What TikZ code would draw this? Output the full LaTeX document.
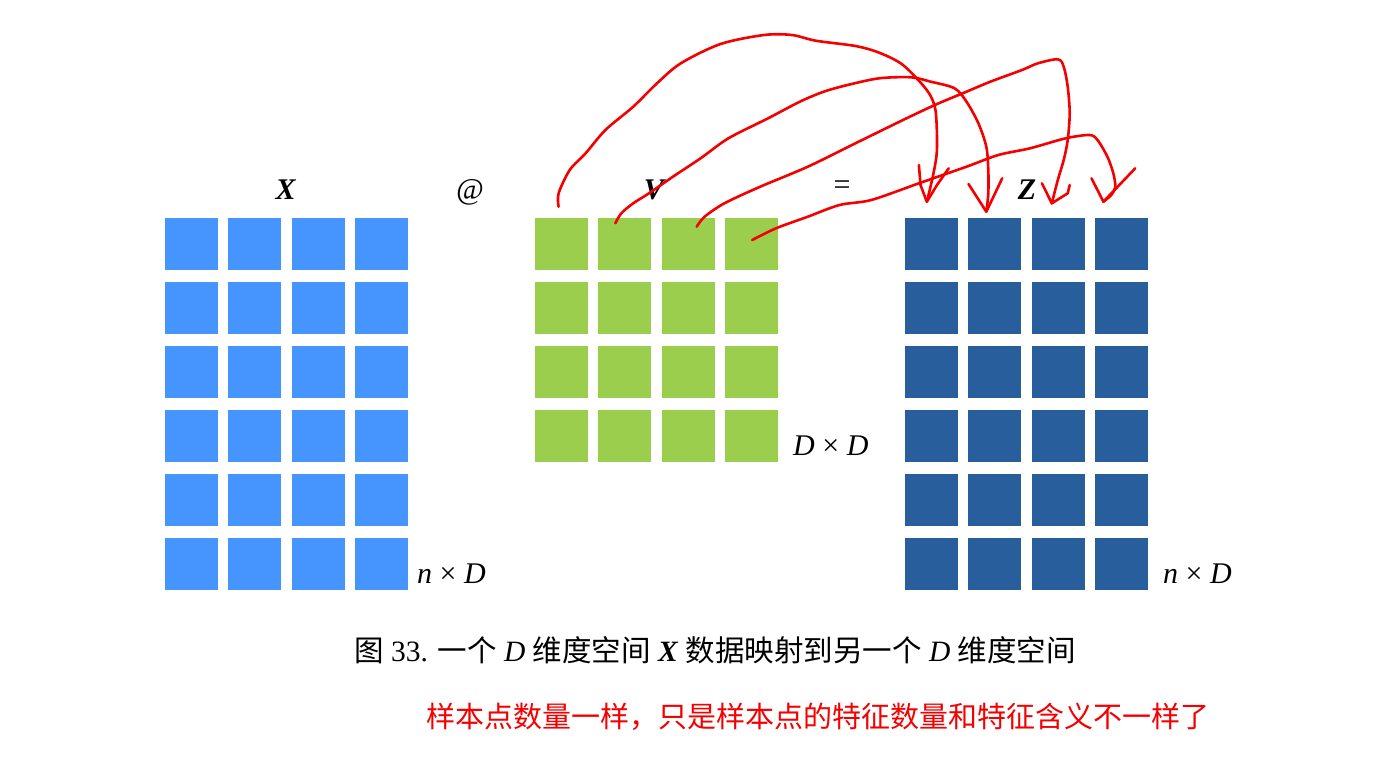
\documentclass[tikz,border=0pt]{standalone}
\usepackage{fontspec}
\setmainfont{Liberation Serif}
\newfontfamily\cjk{Noto Sans CJK SC}
\definecolor{xblue}{HTML}{4694FE}
\definecolor{vgreen}{HTML}{9BCE4D}
\definecolor{zblue}{HTML}{295E9D}
\definecolor{penred}{HTML}{F50000}
\begin{document}
\begin{tikzpicture}[x=1pt,y=-1pt,
  cell/.style={minimum width=53pt,minimum height=52pt,inner sep=0pt,draw=none},
  lab/.style={inner sep=0pt,font=\fontsize{30}{34}\selectfont},
  captext/.style={inner sep=0pt,font=\fontsize{29.5}{34}\selectfont},
  redpen/.style={draw=penred,line width=2.6pt,line cap=round,line join=round}]
\useasboundingbox (0,0) rectangle (1389,772);
\fill[white] (0,0) rectangle (1389,772);
% X grid
\foreach \c [count=\i] in {191.5,254.5,318.5,381.5}
  \foreach \r [count=\j] in {244,308,372,436,500,564}
    \node[cell,fill=xblue] (x\j\i) at (\c,\r) {};
% V grid
\foreach \c [count=\i] in {561.5,624.5,688.5,751.5}
  \foreach \r [count=\j] in {244,308,372,436}
    \node[cell,fill=vgreen] (v\j\i) at (\c,\r) {};
% Z grid
\foreach \c [count=\i] in {931.5,994.5,1058.5,1121.5}
  \foreach \r [count=\j] in {244,308,372,436,500,564}
    \node[cell,fill=zblue] (z\j\i) at (\c,\r) {};
% labels
\node[lab] (lx) at (286,190) {\textbf{\textit{X}}};
\node[lab] (lat) at (470,192) {\textit{@}};
\node[lab] (lv) at (655,190) {\textbf{\textit{V}}};
\node[lab] (leq) at (842,188) {=};
\node[lab] (lz) at (1027,190) {\textbf{\textit{Z}}};
\node[lab,anchor=west] (dd) at (793,446) {\textit{D} × \textit{D}};
\node[lab,anchor=west] (nd1) at (417,574) {\textit{n} × \textit{D}};
\node[lab,anchor=west] (nd2) at (1163,574) {\textit{n} × \textit{D}};
% caption
\node[captext] (cap) at (715,650) {{\cjk 图} 33. {\cjk 一个} \textit{D} {\cjk 维度空间} \textbf{\textit{X}} {\cjk 数据映射到另一个} \textit{D} {\cjk 维度空间}};
\node[captext,font=\fontsize{29}{34}\selectfont,text=penred] (note) at (818,717) {\cjk 样本点数量一样，只是样本点的特征数量和特征含义不一样了};
% red hand-drawn arrows
\coordinate (s1) at (558.6,206.7);
\coordinate (e1) at (926.8,201.7);
\coordinate (s2) at (615.3,223.3);
\coordinate (e2) at (986.3,211.7);
\coordinate (s3) at (696.7,226.7);
\coordinate (e3) at (1051.8,203.3);
\coordinate (s4) at (752.2,240);
\coordinate (e4) at (1111.3,195);
\draw[redpen] plot[smooth,tension=0.5] coordinates {(s1) (558.6,193.3) (569.7,170) (585.6,153.3) (605.4,130) (633.2,106.7) (657,83.3) (680.8,63.3) (720.5,44) (764,35) (792,35) (815.7,40.7) (855.4,46) (879.2,52.7) (903,65) (926.8,90) (934.8,106.7) (936.7,126.7) (936.7,153.3) (932.8,176.7) (e1)};
\draw[redpen] (918.9,165) -- (920.5,185) -- (e1) -- (937,185) -- (948.7,168.3);
\draw[redpen] plot[smooth,tension=0.5] coordinates {(s2) (621.3,213.3) (633.2,203.3) (649,193.3) (672.9,176.7) (700.6,158.3) (728.4,138.3) (768.1,118.3) (799.8,101.7) (823.7,91.7) (847.5,85) (879.2,78.3) (911,77.3) (930.8,81.7) (954.6,88.3) (966.5,101.7) (978.4,123.3) (986.3,146.7) (988.3,170) (988.3,193.3) (e2)};
\draw[redpen] (968.5,184) -- (e2) -- (1002.2,178.3);
\draw[redpen] plot[smooth,tension=0.5] coordinates {(s3) (704.6,216.7) (724.4,203.3) (760.2,186.7) (807.8,166.7) (855.4,143.3) (903,120) (934.8,105) (966.5,91.7) (990.3,81.7) (1022,70) (1037.9,63.3) (1057.8,59.3) (1063.7,66.7) (1067.7,86.7) (1069.7,113.3) (1067.7,140) (1063.7,160) (1057.8,180) (e3)};
\draw[redpen] (1041.9,183.3) -- (e3) -- (1067.7,193.3) -- (1069.7,185);
\draw[redpen] plot[smooth,tension=0.5] coordinates {(s4) (776,228.3) (807.8,216.7) (839.5,205) (871.3,200) (918.9,183.3) (966.5,166.7) (998.3,155) (1030,148.3) (1065.7,138.3) (1089.5,135) (1097.5,140) (1107.4,156.7) (1113.3,173.3) (1115.3,186.7) (e4) (1103.4,201.7)};
\draw[redpen] (1091.5,178.3) -- (1103.4,201.7) -- (1135.2,168.3);
\end{tikzpicture}
\end{document}
